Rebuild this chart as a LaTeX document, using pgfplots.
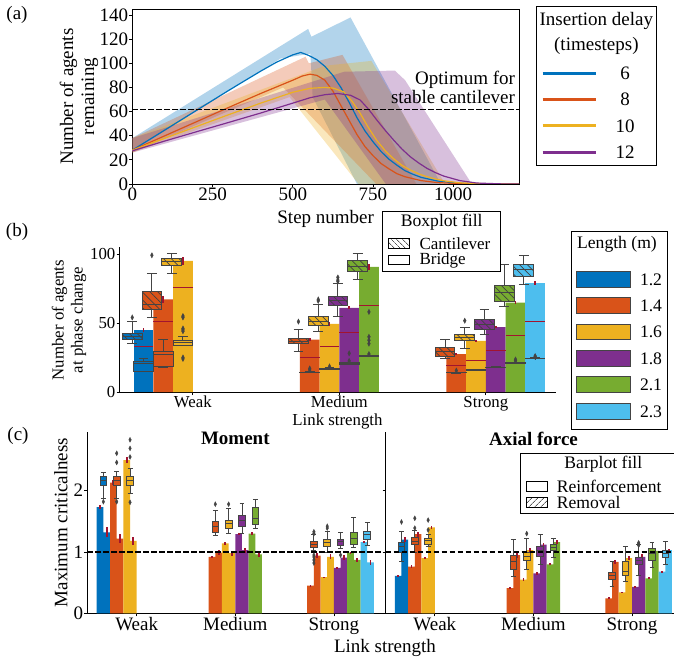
\documentclass[border=0pt]{standalone}
\usepackage{fontspec}
\setmainfont{Liberation Serif}
\usepackage{pgfplots}
\pgfplotsset{compat=1.18}
\usepgfplotslibrary{statistics}
\usetikzlibrary{patterns.meta}
\definecolor{c1}{HTML}{0072BD}
\definecolor{c2}{HTML}{D95319}
\definecolor{c3}{HTML}{EDB120}
\definecolor{c4}{HTML}{7E2F8E}
\definecolor{c5}{HTML}{77AC30}
\definecolor{c6}{HTML}{4DBEEE}
\definecolor{cr}{HTML}{A2142F}
\definecolor{bxg}{HTML}{444444}
\newcommand{\fA}{\fontsize{19}{21}\selectfont}
\newcommand{\fB}{\fontsize{16.8}{19}\selectfont}
\newcommand{\fL}{\fontsize{17.6}{19}\selectfont}
\newcommand{\fS}{\fontsize{17}{18}\selectfont}
\pgfplotsset{
 base/.style={scale only axis, tick align=outside, major tick length=3pt,
   axis line style={line width=0.8pt}, tick style={line width=0.8pt, black},
   /pgf/number format/assume math mode=true, /pgf/number format/1000 sep={},
   tick label style={inner sep=1pt}},
 hbx/.style={boxplot/draw direction=y, boxplot/box extend=0.1345, boxplot/whisker extend=0.067,
   boxplot/every box/.style={draw=bxg, line width=1pt, fill=#1,
     postaction={pattern={Lines[angle=-45,distance=5.5pt,line width=0.7pt]}, pattern color=black!75}},
   boxplot/every whisker/.style={draw=bxg, line width=1pt},
   boxplot/every median/.style={draw=bxg, line width=1pt},
   draw=bxg, mark=diamond*, mark size=2.6pt, mark options={draw=bxg, fill=bxg, solid, xscale=0.7}},
 obx/.style={boxplot/draw direction=y, boxplot/box extend=0.1345, boxplot/whisker extend=0.067,
   boxplot/every box/.style={draw=bxg, line width=1pt, fill=none},
   boxplot/every whisker/.style={draw=bxg, line width=1pt},
   boxplot/every median/.style={draw=bxg, line width=1pt},
   draw=bxg, mark=diamond*, mark size=2.6pt, mark options={draw=bxg, fill=bxg, solid, xscale=0.7}},
 cbx/.style={boxplot/draw direction=y, boxplot/box extend=0.0676, boxplot/whisker extend=0.05,
   boxplot/every box/.style={draw=bxg, line width=0.9pt, fill=#1},
   boxplot/every whisker/.style={draw=bxg, line width=0.9pt},
   boxplot/every median/.style={draw=bxg, line width=0.9pt},
   draw=bxg, mark=diamond*, mark size=2.4pt, mark options={draw=bxg, fill=bxg, solid, xscale=0.7}},
 redv/.style={forget plot, draw=none, mark=none, error bars/.cd, y dir=both, y explicit, error mark=none,
   error bar style={solid, draw=cr, line width=1.8pt}},
 redh/.style={forget plot, draw=none, mark=none, error bars/.cd, x dir=both, x fixed=#1, error mark=none,
   error bar style={solid, draw=cr, line width=1pt}},
}
\newcommand{\HB}[8]{\addplot[hbx=#1, boxplot prepared={draw position=#2, lower whisker=#3, lower quartile=#4, median=#5, upper quartile=#6, upper whisker=#7}] table[row sep=\\,y index=0]{d\\#8};}
\newcommand{\HBn}[7]{\addplot[hbx=#1, boxplot prepared={draw position=#2, lower whisker=#3, lower quartile=#4, median=#5, upper quartile=#6, upper whisker=#7}] coordinates {};}
\newcommand{\OB}[7]{\addplot[obx, boxplot prepared={draw position=#1, lower whisker=#2, lower quartile=#3, median=#4, upper quartile=#5, upper whisker=#6}] table[row sep=\\,y index=0]{d\\#7};}
\newcommand{\OBn}[6]{\addplot[obx, boxplot prepared={draw position=#1, lower whisker=#2, lower quartile=#3, median=#4, upper quartile=#5, upper whisker=#6}] coordinates {};}
\newcommand{\CB}[8]{\addplot[cbx=#1, boxplot prepared={draw position=#2, lower whisker=#3, lower quartile=#4, median=#5, upper quartile=#6, upper whisker=#7}] table[row sep=\\,y index=0]{d\\#8};}
\newcommand{\CBn}[7]{\addplot[cbx=#1, boxplot prepared={draw position=#2, lower whisker=#3, lower quartile=#4, median=#5, upper quartile=#6, upper whisker=#7}] coordinates {};}
\begin{document}
\begin{tikzpicture}[x=1pt,y=1pt,font=\fA]
\useasboundingbox (0,0) rectangle (674,-663);
% ================= (a)
\begin{axis}[base, at={(132.3pt,-184pt)}, anchor=south west, width=386.7pt, height=175pt,
  xmin=0, xmax=1205, ymin=0, ymax=145, xtick={0,250,500,750,1000}, ytick={0,20,40,60,80,100,120,140},
  tick pos=left, tick label style={font=\fA}]
\addplot[forget plot, draw=none, fill=c1, fill opacity=0.3] coordinates {(0,38) (548,128.5) (558,122) (680,138) (962,0) (700,0) (562,72) (555,108) (462,104) (0,27)};
\addplot[forget plot, draw=none, fill=c2, fill opacity=0.3] coordinates {(0,38) (540,105.5) (550,100) (655,107) (885,0) (760,0) (470,80) (0,26)};
\addplot[forget plot, draw=none, fill=c3, fill opacity=0.3] coordinates {(0,38) (600,98) (745,102) (975,0) (705,0) (490,72) (0,26)};
\addplot[forget plot, draw=none, fill=c4, fill opacity=0.3] coordinates {(0,38) (660,93) (818,94) (850,86) (1058,0) (790,0) (600,70) (0,26)};
\addplot[c1, line width=1.2pt] coordinates {(0,28)(100,44.5)(200,61)(300,77.5)(400,93.5)(450,101)(500,107)(525,109)(550,106.5)(575,103)(600,97.5)(625,90)(650,80)(675,68)(700,55)(725,44)(750,35)(775,27)(800,20.5)(825,15.5)(850,11)(875,8)(900,5.5)(950,2.5)(1000,1)(1050,0.3)(1100,0)(1205,0)};
\addplot[c2, line width=1.2pt] coordinates {(0,28)(100,39.8)(200,51.6)(300,63.4)(400,75)(450,80.5)(500,86)(530,89.5)(554,91)(575,90)(600,86)(625,77)(650,65)(675,53)(700,41)(725,31)(750,23.5)(775,17)(800,12.5)(825,8.5)(850,6)(900,2.8)(950,1.2)(1000,0.5)(1100,0)(1205,0)};
\addplot[c3, line width=1.2pt] coordinates {(0,28)(100,37.8)(200,47.6)(300,57.4)(400,67)(500,76)(554,79.3)(600,80)(625,79.5)(658,76.5)(685,68.5)(710,58.6)(735,47)(762,36)(790,27)(814,21)(840,15.5)(866,11.6)(892,8.5)(918,6)(944,4.2)(970,2.7)(1020,1)(1100,0.2)(1205,0)};
\addplot[c4, line width=1.2pt] coordinates {(0,27.5)(100,35.5)(200,43.3)(300,51)(400,58.8)(500,67)(554,71.5)(600,74)(640,75)(680,73.5)(710,69.6)(736,62)(762,53)(788,44.5)(814,36.5)(840,29)(866,22.6)(892,17.5)(918,13)(944,9.5)(970,6.6)(1021,2.8)(1073,0.8)(1150,0.1)(1205,0)};
\addplot[black, line width=1.1pt, dash pattern=on 5.5pt off 2.5pt] coordinates {(0,62) (1205,62)};
\end{axis}
\node at (17,-15) {(a)};
\node at (325.7,-219) {Step number};
\node[rotate=90, align=center] at (79,-96.5) {Number of agents\\remaining};
\node[anchor=base east] at (518.5,-85) {Optimum for};
\node[anchor=base east] at (518.5,-104) {stable cantilever};
\draw[line width=0.8pt] (536,-6) rectangle (656.7,-165.7);
\node at (596.35,-21) {Insertion delay};
\node at (596.35,-45.5) {(timesteps)};
\draw[c1, line width=3pt] (542.7,-73.3) -- (595.7,-73.3); \node at (625,-73.3) {6};
\draw[c2, line width=3pt] (542.7,-99.3) -- (595.7,-99.3); \node at (625,-99.3) {8};
\draw[c3, line width=3pt] (542.7,-126) -- (595.7,-126); \node at (625,-126) {10};
\draw[c4, line width=3pt] (542.7,-152.7) -- (595.7,-152.7); \node at (625,-152.7) {12};
% ================= (b)
\begin{axis}[base, at={(119.5pt,-392pt)}, anchor=south west, width=436pt, height=145pt,
  xmin=-0.5, xmax=2.475, ymin=0, ymax=105, axis lines*=left,
  xtick={0,1,2}, xticklabels={Weak,Medium,Strong}, ytick={0,50,100}, tick label style={font=\fB}]
\addplot[ybar, bar width=0.1345, bar shift=0pt, fill=c1, draw=none] coordinates {(-0.336,45)};
\addplot[ybar, bar width=0.1345, bar shift=0pt, fill=c2, draw=none] coordinates {(-0.202,67) (0.798,38) (1.798,27.5)};
\addplot[ybar, bar width=0.1345, bar shift=0pt, fill=c3, draw=none] coordinates {(-0.067,95) (0.933,49.3) (1.933,37)};
\addplot[ybar, bar width=0.1345, bar shift=0pt, fill=c4, draw=none] coordinates {(1.067,61) (2.067,47)};
\addplot[ybar, bar width=0.1345, bar shift=0pt, fill=c5, draw=none] coordinates {(1.202,90.6) (2.202,64.7)};
\addplot[ybar, bar width=0.1345, bar shift=0pt, fill=c6, draw=none] coordinates {(2.336,79)};
\addplot[redh=0.06725] coordinates {(-0.336,33) (-0.202,51) (-0.067,76) (0.798,25) (0.933,33) (1.067,43) (1.202,63) (1.798,19) (1.933,23) (2.067,30) (2.202,41) (2.336,51)};
\OBn{-0.336}{14.7}{14.7}{20.3}{22}{24}
\OBn{-0.202}{18}{18.4}{27}{29}{38}
\OB{-0.067}{34}{34}{35.5}{37}{40}{55\\54\\46\\45\\44\\25\\24\\}
\OB{0.798}{13.8}{13.8}{14}{14.3}{14.5}{16\\17\\}
\OB{0.933}{16.5}{16.6}{17}{17.3}{17.5}{18.5\\}
\OB{1.067}{20}{20.2}{20.7}{21.2}{21.5}{28\\22.5\\}
\OB{1.202}{25.8}{25.9}{26}{26.2}{26.4}{58\\40\\37.5\\35\\27.5\\}
\OB{1.798}{13.7}{13.8}{14}{14.2}{14.4}{15.5\\}
\OBn{1.933}{15.8}{15.9}{16}{16.1}{16.2}
\OBn{2.067}{17.8}{17.9}{18}{18.1}{18.2}
\OB{2.202}{20.8}{20.9}{21}{21.2}{21.4}{22.7\\23.5\\}
\OB{2.336}{24.1}{24.2}{24.4}{24.6}{24.8}{25.5\\26\\}
\HB{c1}{-0.413}{35}{37.7}{40.5}{42.7}{51}{54\\}
\HB{c2}{-0.279}{54}{60}{63.5}{72.7}{86}{99\\}
\HBn{c3}{-0.144}{86}{91.8}{94.5}{96.8}{100}
\HB{c2}{0.721}{29}{34.8}{36.5}{38.6}{45}{51\\}
\HB{c3}{0.856}{43.7}{47.8}{51.4}{54.6}{63.5}{66\\67\\}
\HB{c4}{0.990}{55}{62.5}{66}{69}{78.7}{80\\81\\83\\}
\HBn{c5}{1.125}{81.7}{87}{91}{95}{100}
\HBn{c2}{1.721}{24}{26}{29}{32}{38}
\HB{c3}{1.856}{31.6}{37.4}{39.7}{42}{47}{51.6\\}
\HBn{c4}{1.990}{42}{45.4}{49}{52.7}{59.6}
\HBn{c5}{2.125}{62}{65.7}{72}{76.8}{92}
\HBn{c6}{2.259}{78}{83.6}{88.4}{92}{98.5}
\addplot[redv] coordinates {(-0.336,45) +- (0,1.5) (-0.202,67) +- (0,2.2) (-0.067,95) +- (0,3) (0.798,38) +- (0,1) (0.933,49.3) +- (0,1.3) (1.067,61) +- (0,1) (1.202,90.6) +- (0,2) (1.798,27.5) +- (0,0.8) (1.933,37) +- (0,1) (2.067,47) +- (0,1) (2.202,64.7) +- (0,1) (2.336,79) +- (0,1.2)};
\end{axis}
\node at (17,-232) {(b)};
\node[font=\fB] at (337.5,-421.7) {Link strength};
\node[rotate=90, align=center, font=\fB] at (69,-320) {Number of agents\\at phase change};
\draw[line width=0.8pt, fill=white] (382.7,-211.7) rectangle (500,-271.5);
\node[font=\fL] at (441.7,-222.3) {Boxplot fill};
\draw[line width=0.8pt, pattern={Lines[angle=-45,distance=4pt,line width=0.6pt]}] (388.3,-238.5) rectangle (409.3,-248.5);
\node[font=\fS, anchor=west, inner sep=0pt] at (419.3,-243.3) {Cantilever};
\draw[line width=0.8pt] (388.3,-255.5) rectangle (409.3,-264.5);
\node[font=\fS, anchor=west, inner sep=0pt] at (419.3,-260.5) {Bridge};
\draw[line width=0.8pt] (571.7,-231.7) rectangle (667.7,-429.3);
\node[font=\fL] at (617,-244) {Length (m)};
\foreach \c/\yy/\t in {c1/279.5/1.2, c2/305.5/1.4, c3/332/1.6, c4/358.3/1.8, c5/384.7/2.1, c6/411.3/2.3}{
  \draw[fill=\c, draw=bxg, line width=0.9pt] (576.7,-\yy+7.8) rectangle (630,-\yy-7.8);
  \node[font=\fL] at (651,-\yy) {\t};
}
% ================= (c) Moment
\begin{axis}[base, at={(87.4pt,-613.3pt)}, anchor=south west, width=295.8pt, height=181.6pt,
  xmin=-0.5, xmax=2.5, ymin=0, ymax=2.962, axis lines*=left,
  xtick={0,1,2}, xticklabels={Weak,Medium,Strong}, ytick={0,1,2}, tick label style={font=\fA}]
\addplot[ybar, bar width=0.0676, bar shift=0pt, fill=c1, draw=none] coordinates {(-0.3718,1.73) (-0.3042,1.32)};
\addplot[ybar, bar width=0.0676, bar shift=0pt, fill=c2, draw=none] coordinates {(-0.2366,2.13) (0.7634,0.92) (1.7634,0.45) (-0.169,1.22) (0.831,0.99) (1.831,0.94)};
\addplot[ybar, bar width=0.0676, bar shift=0pt, fill=c3, draw=none] coordinates {(-0.1014,2.5) (0.8986,1.14) (1.8986,0.59) (-0.0338,1.18) (0.9662,0.98) (1.9662,0.92)};
\addplot[ybar, bar width=0.0676, bar shift=0pt, fill=c4, draw=none] coordinates {(1.0338,1.29) (2.0338,0.74) (1.1014,1.03) (2.1014,0.91)};
\addplot[ybar, bar width=0.0676, bar shift=0pt, fill=c5, draw=none] coordinates {(1.169,1.3) (2.169,0.99) (1.2366,0.96) (2.2366,0.87)};
\addplot[ybar, bar width=0.0676, bar shift=0pt, fill=c6, draw=none] coordinates {(2.3042,1.16) (2.3718,0.83)};
\addplot[redv] coordinates {
 (-0.3718,1.73) +- (0,0.03) (-0.3042,1.32) +- (0,0.08) (-0.2366,2.13) +- (0,0.04) (-0.169,1.22) +- (0,0.08) (-0.1014,2.5) +- (0,0.05) (-0.0338,1.18) +- (0,0.07)
 (0.7634,0.92) +- (0,0.02) (0.831,0.99) +- (0,0.04) (0.8986,1.14) +- (0,0.02) (0.9662,0.98) +- (0,0.04) (1.0338,1.29) +- (0,0.02) (1.1014,1.03) +- (0,0.04) (1.169,1.3) +- (0,0.02) (1.2366,0.96) +- (0,0.04)
 (1.7634,0.45) +- (0,0.01) (1.831,0.94) +- (0,0.04) (1.8986,0.59) +- (0,0.01) (1.9662,0.92) +- (0,0.04) (2.0338,0.74) +- (0,0.01) (2.1014,0.91) +- (0,0.04) (2.169,0.99) +- (0,0.01) (2.2366,0.87) +- (0,0.04) (2.3042,1.16) +- (0,0.02) (2.3718,0.83) +- (0,0.04)};
\CB{c1}{-0.338}{1.875}{2.08}{2.16}{2.23}{2.3}{1.82\\}
\CB{c2}{-0.2028}{1.875}{2.08}{2.17}{2.23}{2.31}{2.61\\2.46\\1.82\\}
\CB{c3}{-0.0676}{1.95}{2.08}{2.16}{2.23}{2.36}{2.83\\2.69\\2.55\\1.81\\}
\CB{c2}{0.7972}{1.27}{1.32}{1.41}{1.5}{1.68}{1.78\\}
\CB{c3}{0.9324}{1.3}{1.39}{1.46}{1.52}{1.71}{1.78\\}
\CBn{c4}{1.0676}{1.3}{1.42}{1.51}{1.6}{1.79}
\CBn{c5}{1.2028}{1.39}{1.45}{1.55}{1.72}{1.86}
\CB{c2}{1.7972}{1.03}{1.07}{1.125}{1.18}{1.28}{1.33\\1.3\\0.95\\0.92\\0.87\\0.82\\}
\CB{c3}{1.9324}{1.0}{1.09}{1.15}{1.21}{1.33}{1.42\\1.39\\}
\CB{c4}{2.0676}{1.06}{1.11}{1.17}{1.21}{1.32}{0.95\\}
\CBn{c5}{2.2028}{1.08}{1.125}{1.22}{1.32}{1.56}
\CBn{c6}{2.338}{1.11}{1.2}{1.28}{1.33}{1.49}
\addplot[black, line width=1.1pt, dash pattern=on 5.5pt off 2.5pt] coordinates {(-0.5,1) (2.5,1)};
\end{axis}
% ================= (c) Axial
\begin{axis}[base, at={(385.5pt,-613.3pt)}, anchor=south west, width=288.5pt, height=181.6pt,
  xmin=-0.5, xmax=2.426, ymin=0, ymax=2.962, axis lines*=left,
  xtick={0,1,2}, xticklabels={Weak,Medium,Strong}, ytick={0,1,2}, yticklabels={}, tick label style={font=\fA}]
\addplot[ybar, bar width=0.0676, bar shift=0pt, fill=c1, draw=none] coordinates {(-0.3718,0.61) (-0.3042,1.2)};
\addplot[ybar, bar width=0.0676, bar shift=0pt, fill=c2, draw=none] coordinates {(-0.2366,0.76) (0.7634,0.41) (1.7634,0.245) (-0.169,1.29) (0.831,0.95) (1.831,0.84)};
\addplot[ybar, bar width=0.0676, bar shift=0pt, fill=c3, draw=none] coordinates {(-0.1014,0.9) (0.8986,0.55) (1.8986,0.34) (-0.0338,1.4) (0.9662,1.03) (1.9662,0.9)};
\addplot[ybar, bar width=0.0676, bar shift=0pt, fill=c4, draw=none] coordinates {(1.0338,0.65) (2.0338,0.43) (1.1014,1.12) (2.1014,0.92)};
\addplot[ybar, bar width=0.0676, bar shift=0pt, fill=c5, draw=none] coordinates {(1.169,0.8) (2.169,0.57) (1.2366,1.16) (2.2366,1.02)};
\addplot[ybar, bar width=0.0676, bar shift=0pt, fill=c6, draw=none] coordinates {(2.3042,0.68) (2.3718,1.03)};
\addplot[redv] coordinates {
 (-0.3718,0.61) +- (0,0.02) (-0.3042,1.2) +- (0,0.04) (-0.2366,0.76) +- (0,0.02) (-0.169,1.29) +- (0,0.04) (-0.1014,0.9) +- (0,0.02) (-0.0338,1.4) +- (0,0.03)
 (0.7634,0.41) +- (0,0.02) (0.831,0.95) +- (0,0.04) (0.8986,0.55) +- (0,0.02) (0.9662,1.03) +- (0,0.04) (1.0338,0.65) +- (0,0.02) (1.1014,1.12) +- (0,0.03) (1.169,0.8) +- (0,0.02) (1.2366,1.16) +- (0,0.03)
 (1.7634,0.245) +- (0,0.015) (1.831,0.84) +- (0,0.03) (1.8986,0.34) +- (0,0.015) (1.9662,0.9) +- (0,0.03) (2.0338,0.43) +- (0,0.015) (2.1014,0.92) +- (0,0.04) (2.169,0.57) +- (0,0.015) (2.2366,1.02) +- (0,0.03) (2.3042,0.68) +- (0,0.015) (2.3718,1.03) +- (0,0.025)};
\CB{c1}{-0.338}{0.84}{1.0}{1.09}{1.15}{1.34}{1.49\\}
\CB{c2}{-0.2028}{1.0}{1.125}{1.18}{1.23}{1.35}{1.55\\1.39\\}
\CB{c3}{-0.0676}{1.09}{1.13}{1.185}{1.22}{1.29}{1.52\\1.36\\}
\CBn{c2}{0.7972}{0.6}{0.72}{0.84}{0.94}{1.21}
\CB{c3}{0.9324}{0.71}{0.86}{0.93}{1.0}{1.22}{1.3\\}
\CBn{c4}{1.0676}{0.79}{0.92}{1.02}{1.09}{1.29}
\CBn{c5}{1.2028}{0.91}{1.02}{1.08}{1.12}{1.22}
\CBn{c2}{1.7972}{0.43}{0.55}{0.61}{0.67}{0.84}
\CBn{c3}{1.9324}{0.52}{0.625}{0.68}{0.84}{1.09}
\CB{c4}{2.0676}{0.625}{0.79}{0.87}{0.91}{1.12}{1.15\\1.13\\1.11\\}
\CBn{c5}{2.2028}{0.74}{0.87}{0.97}{1.06}{1.15}
\CBn{c6}{2.338}{0.8}{0.91}{0.97}{1.02}{1.17}
\addplot[black, line width=1.1pt, dash pattern=on 5.5pt off 2.5pt] coordinates {(-0.5,1) (2.426,1)};
\end{axis}
\node at (18,-436) {(c)};
\node[font=\bfseries\fA] at (235.3,-438.3) {Moment};
\node[font=\bfseries\fA] at (533.5,-439.3) {Axial force};
\node at (385,-648) {Link strength};
\node[rotate=90] at (61,-522.5) {Maximum criticalness};
\draw[line width=0.8pt, fill=white] (520,-453.3) rectangle (676,-513.3);
\node[font=\fL] at (603.3,-464.3) {Barplot fill};
\draw[line width=0.8pt] (526,-481.7) rectangle (547.3,-491);
\node[font=\fL, anchor=west, inner sep=0pt] at (556.7,-486.3) {Reinforcement};
\draw[line width=0.8pt, pattern={Lines[angle=45,distance=4pt,line width=0.6pt]}] (526,-497.3) rectangle (547.3,-507.3);
\node[font=\fL, anchor=west, inner sep=0pt] at (556.7,-502.3) {Removal};
\end{tikzpicture}
\end{document}
